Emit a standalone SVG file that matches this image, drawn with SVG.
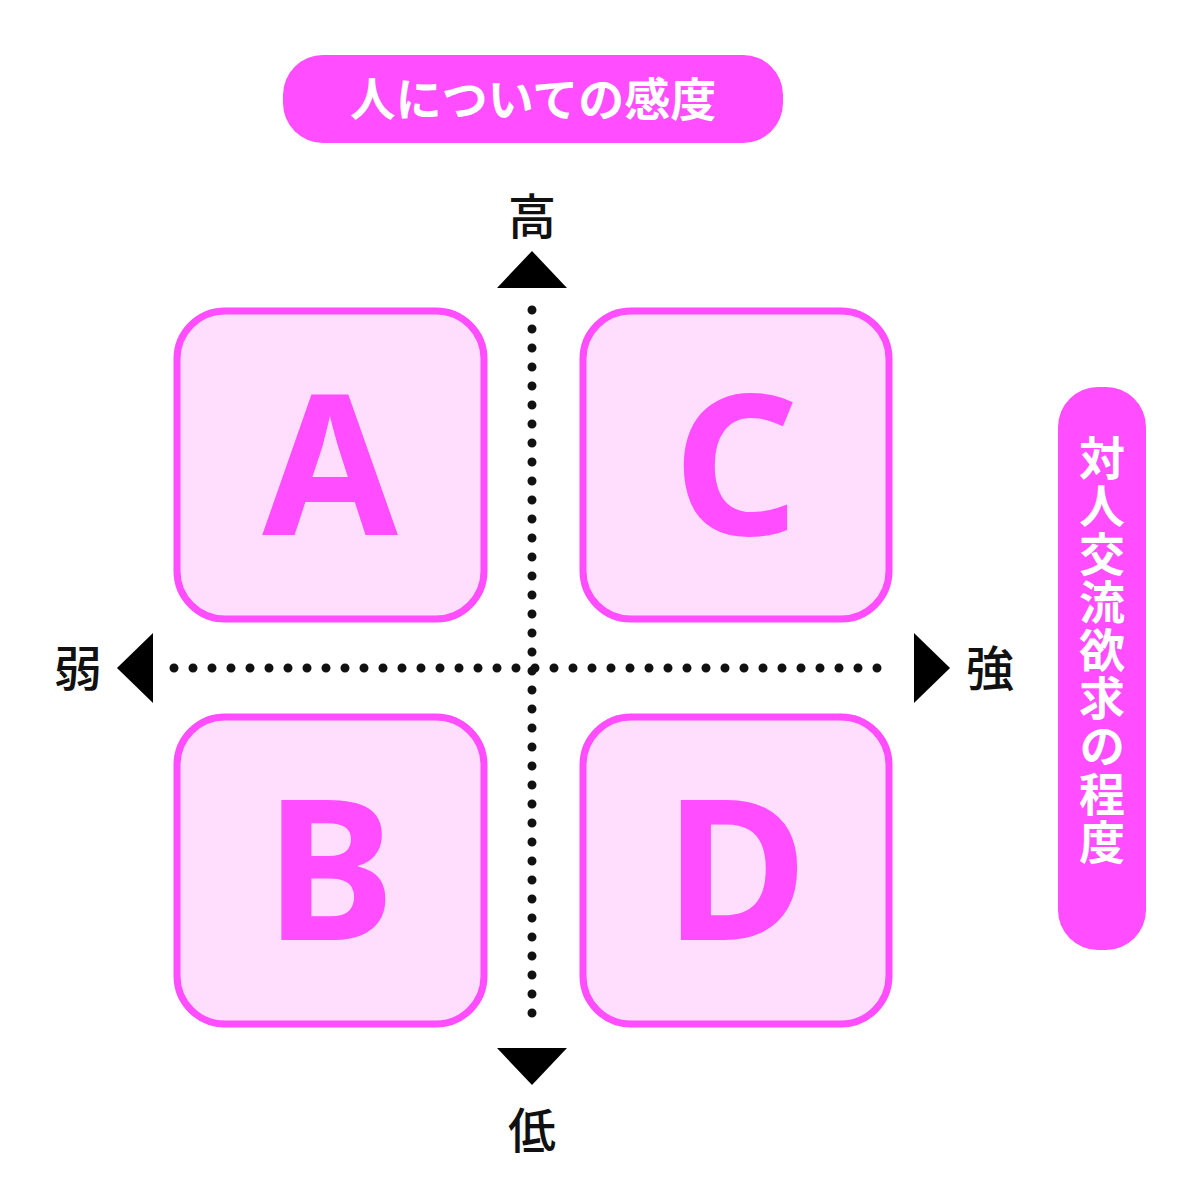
<svg xmlns="http://www.w3.org/2000/svg" width="1198" height="1200" viewBox="0 0 1198 1200">
<style>
.box{fill:#ffddfd;stroke:#ff4dff;stroke-width:7}
.let{fill:#ff4dff;font-family:"Noto Sans","Liberation Sans",sans-serif;font-weight:bold;font-size:196px;text-anchor:middle}
.pill{fill:#ff4dff}
.pt{fill:#fff;font-family:"Noto Sans CJK JP",sans-serif;font-weight:bold;font-size:46px}
.ax{fill:#111;font-family:"Noto Sans CJK JP",sans-serif;font-weight:500;font-size:48px;text-anchor:middle}
.dot{stroke:#111;stroke-width:9;stroke-linecap:round;stroke-dasharray:0 19;fill:none}
</style>
<rect width="1198" height="1200" fill="#fff"/>
<g id="title"><rect class="pill" x="283" y="55" width="500" height="88" rx="40"/><text class="pt" x="533" y="116" text-anchor="middle">人についての感度</text></g>
<g id="side"><rect class="pill" x="1058" y="387" width="88" height="563" rx="40"/><text class="pt" x="1102" y="435" style="writing-mode:vertical-rl;glyph-orientation-vertical:0" text-anchor="start" letter-spacing="2">対人交流欲求の程度</text></g>
<g id="A"><rect class="box" x="177" y="311" width="307" height="308" rx="48"/><text class="let" x="330" y="535">A</text></g>
<g id="C"><rect class="box" x="583" y="311" width="306" height="308" rx="48"/><text class="let" x="736" y="535">C</text></g>
<g id="B"><rect class="box" x="177" y="717" width="307" height="307" rx="48"/><text class="let" x="330" y="940">B</text></g>
<g id="D"><rect class="box" x="583" y="717" width="306" height="307" rx="48"/><text class="let" x="736" y="940">D</text></g>
<g id="connectors">
<path class="dot" d="M532 310V1032"/>
<path class="dot" d="M174 668H896"/>
<polygon points="532,251 567,288 497,288" fill="#000"/>
<polygon points="532,1085 567,1048 497,1048" fill="#000"/>
<polygon points="117,668 153,633 153,703" fill="#000"/>
<polygon points="950,668 914,633 914,703" fill="#000"/>
</g>
<g id="labels">
<text class="ax" x="532" y="234">高</text>
<text class="ax" x="532" y="1148">低</text>
<text class="ax" x="78" y="686">弱</text>
<text class="ax" x="990" y="686">強</text>
</g>
</svg>
